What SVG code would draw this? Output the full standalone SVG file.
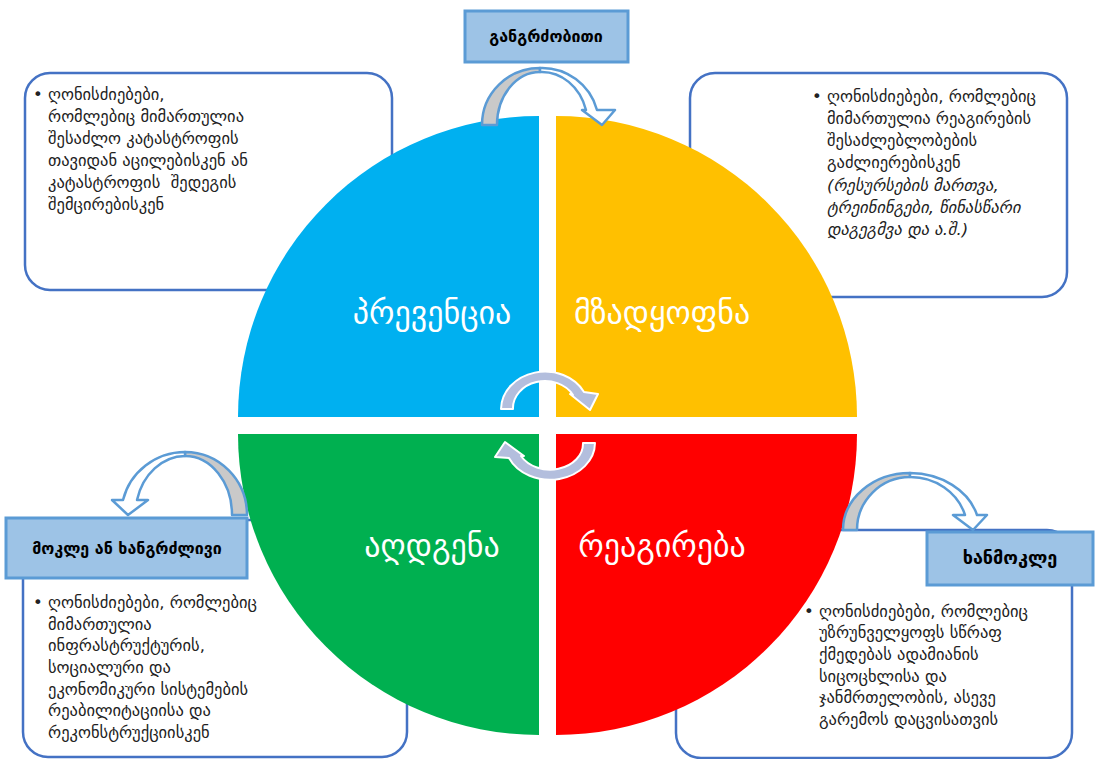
<svg xmlns="http://www.w3.org/2000/svg" width="1095" height="759" viewBox="0 0 1095 759">
<style>
.box{fill:#fff;stroke:#4472C4;stroke-width:2.5}
.lbl{fill:#9DC3E6;stroke:#5B9BD5;stroke-width:3}
.lt{font-family:"DejaVu Sans","Noto Sans Georgian",sans-serif;font-weight:bold;font-size:16px;fill:#000;text-anchor:middle}
.bt{font-family:"DejaVu Sans","Noto Sans Georgian",sans-serif;font-size:16.5px;fill:#222}
.it{font-style:italic}
.qt{font-family:"DejaVu Sans","Noto Sans Georgian",sans-serif;font-size:32px;fill:#fff;text-anchor:middle}
.ga{fill:#C9C9C9;stroke:#5B9BD5;stroke-width:2.5;stroke-linejoin:round}
.wa{fill:#fff;stroke:#5B9BD5;stroke-width:2.5;stroke-linejoin:round}
.ca{fill:#B3BEDD;stroke:#fff;stroke-width:2;stroke-linejoin:round}
</style>
<rect width="1095" height="759" fill="#fff"/>
<g id="box-tl"><rect class="box" x="25" y="73" width="367" height="217" rx="25"/></g>
<g id="box-tr"><rect class="box" x="690" y="73" width="377" height="224" rx="25"/></g>
<g id="box-bl"><rect class="box" x="23" y="520" width="384" height="237" rx="25"/></g>
<g id="box-br"><rect class="box" x="676" y="530" width="396" height="228" rx="25"/></g>
<g id="q-prevention"><path d="M539,417 L238,417 A301,301 0 0 1 539,116 Z" fill="#00B0F0"/><text class="qt" x="432" y="324">პრევენცია</text></g>
<g id="q-preparedness"><path d="M556,417 L556,116 A301,301 0 0 1 857,417 Z" fill="#FFC000"/><text class="qt" x="662" y="324">მზადყოფნა</text></g>
<g id="q-recovery"><path d="M539,434 L539,735 A301,301 0 0 1 238,434 Z" fill="#00B050"/><text class="qt" x="432" y="557">აღდგენა</text></g>
<g id="q-response"><path d="M556,434 L857,434 A301,301 0 0 1 556,735 Z" fill="#FF0000"/><text class="qt" x="662" y="557">რეაგირება</text></g>
<g id="connectors">
<path class="ca" d="M501,409 A44,38 0 0 1 584,392 L598,394 L590,410 L570,394 L573,395 A32,27 0 0 0 513,409 Z"/>
<path class="ca" d="M595,443 A45,37 0 0 1 509,458 L495,457 L505,442 L524,456 L521,456 A33,26 0 0 0 583,443 Z"/>
<path class="ga" d="M482,125 A58,57 0 0 1 540,68 L540,72 A43,53 0 0 0 497,125 Z"/>
<path class="wa" d="M540,68 A57,57 0 0 1 597,110 L615,110 L602,125 L582,110 L586,110 A46,53 0 0 0 540,72 Z"/>
<path class="ga" d="M247,515 A62,63 0 0 0 185,452 L185,456 A47,59 0 0 1 232,515 Z"/>
<path class="wa" d="M185,452 A64,63 0 0 0 123,500 L112,500 L128,515 L148,500 L137,500 A50,59 0 0 1 185,456 Z"/>
<path class="ga" d="M843,530 A67,57 0 0 1 910,473 L910,477 A53,53 0 0 0 857,530 Z"/>
<path class="wa" d="M910,473 A70,57 0 0 1 977,515 L987,515 L973,530 L953,515 L965,515 A57,53 0 0 0 910,477 Z"/>
</g>
<g id="label-continuous"><rect class="lbl" x="465" y="11" width="163" height="51"/><text class="lt" x="546" y="42">განგრძობითი</text></g>
<g id="label-medium-long"><rect class="lbl" x="6" y="518" width="241" height="60"/><text class="lt" x="127" y="554">მოკლე ან ხანგრძლივი</text></g>
<g id="label-short"><rect class="lbl" x="927" y="532" width="166" height="53"/><text class="lt" x="1010" y="564" style="font-size:18px">ხანმოკლე</text></g>
<g id="text-tl" class="bt">
<text x="33" y="100">•</text>
<text x="48" y="100">ღონისძიებები,</text>
<text x="48" y="122">რომლებიც მიმართულია</text>
<text x="48" y="144">შესაძლო კატასტროფის</text>
<text x="48" y="166">თავიდან აცილებისკენ ან</text>
<text x="48" y="188" xml:space="preserve">კატასტროფის  შედეგის</text>
<text x="48" y="210">შემცირებისკენ</text>
</g>
<g id="text-tr" class="bt">
<text x="812" y="102">•</text>
<text x="827" y="102">ღონისძიებები, რომლებიც</text>
<text x="827" y="124">მიმართულია რეაგირების</text>
<text x="827" y="146">შესაძლებლობების</text>
<text x="827" y="168">გაძლიერებისკენ</text>
<text class="it" x="827" y="191">(რესურსების მართვა,</text>
<text class="it" x="827" y="213">ტრეინინგები, წინასწარი</text>
<text class="it" x="827" y="235">დაგეგმვა და ა.შ.)</text>
</g>
<g id="text-bl" class="bt">
<text x="33" y="608">•</text>
<text x="48" y="608">ღონისძიებები, რომლებიც</text>
<text x="48" y="630">მიმართულია</text>
<text x="48" y="651">ინფრასტრუქტურის,</text>
<text x="48" y="673">სოციალური და</text>
<text x="48" y="695">ეკონომიკური სისტემების</text>
<text x="48" y="716">რეაბილიტაციისა და</text>
<text x="48" y="738">რეკონსტრუქციისკენ</text>
</g>
<g id="text-br" class="bt">
<text x="804" y="617">•</text>
<text x="819" y="617">ღონისძიებები, რომლებიც</text>
<text x="819" y="638">უზრუნველყოფს სწრაფ</text>
<text x="819" y="660">ქმედებას ადამიანის</text>
<text x="819" y="682">სიცოცხლისა და</text>
<text x="819" y="703">ჯანმრთელობის, ასევე</text>
<text x="819" y="725">გარემოს დაცვისათვის</text>
</g>
</svg>
